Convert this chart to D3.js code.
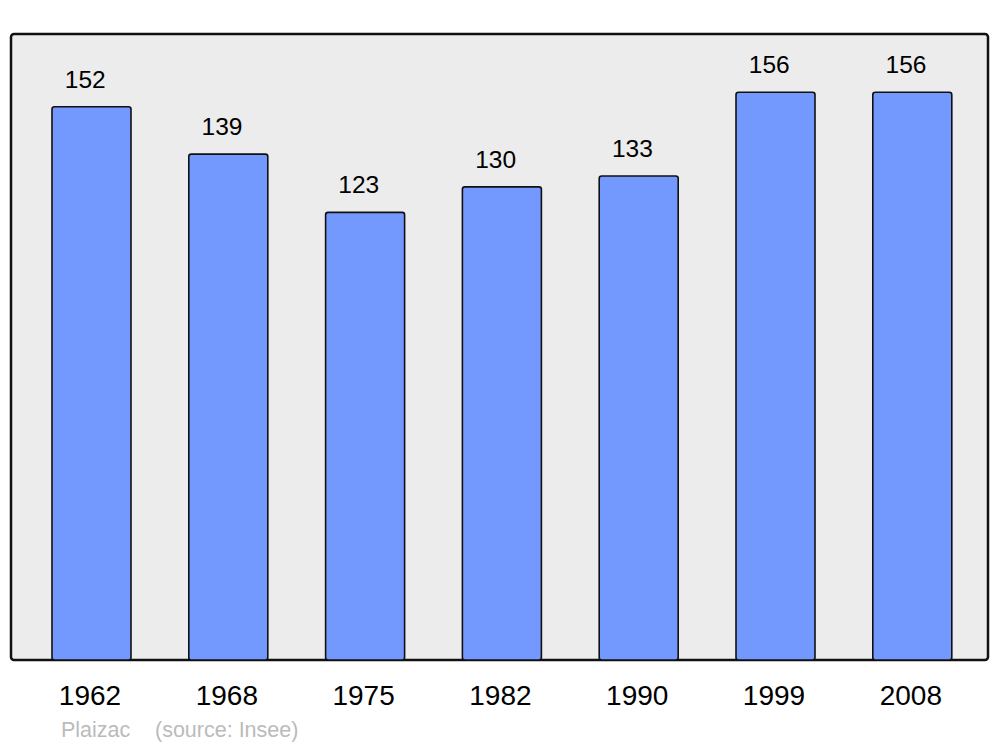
<!DOCTYPE html>
<html>
<head>
<meta charset="utf-8">
<script src="https://cdn.jsdelivr.net/npm/d3@7"></script>
<style>
  html, body { margin: 0; padding: 0; background: #ffffff; }
  svg { display: block; }
</style>
</head>
<body>
<svg id="chart" width="1000" height="747"></svg>
<script>
const years = ["1962", "1968", "1975", "1982", "1990", "1999", "2008"];
const population = [152, 139, 123, 130, 133, 156, 156];
const yDomain = [0, 172];
const townName = "Plaizac";
const sourceText = "(source: Insee)";

const svg = d3.select("#chart");
const font = "'Liberation Sans', Arial, sans-serif";

const panel = { x: 11, y: 34, w: 977, h: 626 };

svg.append("rect")
  .attr("x", panel.x).attr("y", panel.y)
  .attr("width", panel.w).attr("height", panel.h)
  .attr("rx", 3).attr("ry", 3)
  .attr("fill", "#ececec")
  .attr("stroke", "#111").attr("stroke-width", 2.5);

const x = d3.scaleBand()
  .domain(years)
  .range([23.1, 980.7])
  .paddingInner(0.4225)
  .paddingOuter(0.21125);

const y = d3.scaleLinear()
  .domain(yDomain)
  .range([panel.y + panel.h, panel.y]);

const data = years.map((yr, i) => ({ year: yr, value: population[i] }));

svg.append("g").selectAll("rect")
  .data(data)
  .join("rect")
  .attr("x", d => x(d.year))
  .attr("y", d => y(d.value))
  .attr("width", x.bandwidth())
  .attr("height", d => y(0) - y(d.value))
  .attr("rx", 2.5).attr("ry", 2.5)
  .attr("fill", "#7399ff")
  .attr("stroke", "#111")
  .attr("stroke-width", 1.6);

svg.append("g").selectAll("text")
  .data(data)
  .join("text")
  .attr("x", d => x(d.year) + x.bandwidth() / 2 - 6.3)
  .attr("y", d => y(d.value) - 19)
  .attr("text-anchor", "middle")
  .attr("font-family", font)
  .attr("font-size", 24.5)
  .attr("fill", "#000")
  .text(d => d.value);

const xAxis = d3.axisBottom(x).tickSize(0).tickPadding(0);
const axisG = svg.append("g")
  .attr("transform", `translate(-1.5, 705)`)
  .call(xAxis);
axisG.select(".domain").remove();
axisG.selectAll("text")
  .attr("dy", 0)
  .attr("y", 0)
  .attr("font-family", font)
  .attr("font-size", 28)
  .attr("fill", "#000");

svg.append("text")
  .attr("x", 61).attr("y", 737)
  .attr("font-family", font)
  .attr("font-size", 21.5)
  .attr("fill", "#bbbbbb")
  .text(townName);

svg.append("text")
  .attr("x", 155).attr("y", 737)
  .attr("font-family", font)
  .attr("font-size", 21.5)
  .attr("fill", "#bbbbbb")
  .text(sourceText);
</script>
</body>
</html>
